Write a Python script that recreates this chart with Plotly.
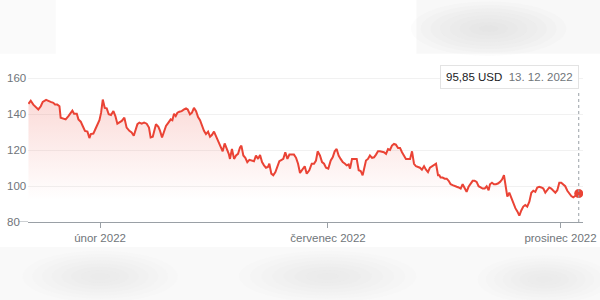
import pandas as pd
import plotly.graph_objects as go

# ---- data (day offsets counted from 13 Dec 2021, price in USD) ----
start_date = "2021-12-13"
day_offset = [
    2.9, 4.4, 6.1, 7.9, 9.4, 11.0, 12.3, 14.5, 16.0, 17.5,
    19.3, 20.4, 21.9, 23.3, 24.1, 25.9, 27.4, 29.2, 30.7, 31.8,
    32.9, 34.7, 35.8, 37.3, 38.6, 40.1, 41.7, 43.0, 43.9, 45.6,
    46.9, 48.3, 49.6, 50.7, 51.8, 53.1, 54.4, 55.7, 57.2, 58.8,
    60.1, 61.4, 62.7, 64.3, 66.0, 67.5, 69.3, 70.8, 72.2, 73.3,
    74.6, 75.9, 77.4, 79.0, 80.7, 82.2, 83.3, 84.7, 85.8, 86.8,
    88.4, 89.5, 90.8, 92.1, 93.4, 95.0, 96.5, 97.6, 98.7, 99.8,
    100.9, 102.2, 103.7, 105.3, 106.6, 107.7, 109.2, 110.5, 111.8, 113.2,
    114.5, 115.8, 117.1, 118.4, 119.7, 121.1, 122.4, 123.7, 125.0, 126.3,
    127.9, 129.4, 130.7, 132.0, 133.3, 134.7, 135.5, 136.8, 138.2, 139.5,
    140.8, 142.1, 143.0, 144.3, 145.6, 146.9, 148.3, 149.8, 151.3, 152.6,
    154.0, 155.3, 156.6, 157.9, 159.2, 160.5, 161.4, 162.7, 164.0, 165.4,
    166.7, 168.0, 169.5, 170.6, 171.9, 173.3, 174.6, 176.1, 177.6, 179.0,
    180.3, 181.6,
    183.3, 184.7, 186.0, 187.7, 189.3, 190.8, 192.1, 193.2, 194.7, 196.1,
    197.4, 198.7, 200.2, 201.8, 203.1, 204.4, 205.7, 207.0, 208.3, 209.7,
    211.2, 212.3, 213.6, 214.5, 215.8, 217.1, 218.9, 220.2, 221.5, 222.8,
    223.7, 225.0, 226.3, 227.6, 229.0, 230.3, 231.6, 232.9, 234.2, 235.5,
    236.8, 238.2, 239.5, 240.8, 242.1, 243.4, 244.7, 246.1, 247.4, 248.7,
    250.0, 251.3, 252.6, 254.0, 255.3, 256.6, 257.9, 259.2, 260.5, 261.8,
    263.2, 264.5, 265.8, 267.1, 268.4, 269.7, 271.1, 272.4, 273.3, 274.1,
    275.4, 276.8, 278.1, 279.4, 280.7, 282.0, 283.3, 284.7, 286.0, 287.3,
    288.6, 289.9, 291.2, 292.5, 293.9, 295.2, 296.5, 297.8, 299.1, 300.4,
    301.8, 303.1, 304.4, 305.7, 306.6, 307.9, 309.2, 310.5, 311.8, 313.2,
    314.5, 315.8, 317.1, 318.0, 319.3, 320.6, 321.9, 323.3, 324.6, 325.9,
    327.2, 328.5, 329.8, 331.1, 332.5, 333.8, 335.1, 336.4, 337.7, 339.0,
    340.4, 341.7, 343.0, 344.3, 345.6, 346.9, 348.3, 349.6, 350.9, 352.2,
    353.5, 354.8, 356.1, 357.5, 358.8, 360.1, 361.4, 362.7, 364.0, 365.0,
]
price = [
    145.7, 147.5, 145.3, 143.5, 142.6, 144.4, 146.8, 147.9, 147.2, 146.8,
    146.3, 145.3, 145.3, 144.4, 138.0, 137.7, 137.1, 138.9, 140.8, 142.0,
    140.2, 140.2, 137.1, 135.8, 133.4, 130.7, 130.3, 126.7, 128.9, 129.2,
    131.6, 134.4, 136.6, 140.8, 148.1, 143.5, 143.2, 139.9, 139.5, 141.7,
    138.9, 134.7, 135.3, 136.2, 138.0, 132.5, 130.7, 129.8, 128.0, 131.6,
    134.4, 135.3, 134.7, 135.3, 134.7, 132.5, 127.0, 127.4, 131.6, 134.4,
    132.9, 130.7, 127.0, 129.8, 133.4, 135.3, 137.1, 136.6, 140.2, 138.9,
    140.8, 141.3, 141.7, 142.6, 143.2, 142.6, 139.9, 140.8, 143.5, 141.7,
    138.4, 136.6, 133.4, 130.7, 128.9, 130.3, 127.4, 128.5, 130.3, 127.9,
    125.2, 122.5, 119.3, 123.7, 121.2, 117.9, 115.1, 120.6, 115.1, 117.0,
    117.9, 121.5, 122.5, 117.0, 115.7, 113.3, 114.6, 114.2, 113.8, 117.0,
    115.1, 117.3, 113.3, 111.5, 110.2, 110.6, 112.4, 106.9, 106.0, 107.8,
    111.5, 113.8, 114.6, 115.1, 118.8, 115.1, 117.5, 117.5, 117.5, 115.7,
    112.4, 107.3,
    109.7, 111.0, 106.9, 108.8, 112.4, 112.4, 114.2, 119.3, 117.0, 113.3,
    112.4, 110.2, 109.7, 114.2, 116.0, 119.3, 120.6, 117.0, 115.1, 113.3,
    112.4, 111.5, 112.0, 109.7, 115.1, 115.1, 115.1, 108.8, 108.4, 106.0,
    108.8, 114.2, 115.1, 117.0, 115.7, 116.0, 117.5, 119.3, 119.3, 118.9,
    118.8, 117.9, 120.6, 120.1, 122.5, 123.4, 123.0, 121.2, 121.2, 118.8,
    117.0, 115.1, 115.1, 115.1, 119.3, 112.4, 111.0, 110.6, 110.2, 109.1,
    111.0, 109.1, 107.8, 110.2, 111.0, 112.0, 112.4, 106.0, 106.0, 104.7,
    104.7, 104.1, 104.1, 102.9, 101.0, 100.5, 99.9, 99.6, 99.2, 98.6,
    101.0, 98.6, 96.8, 99.6, 101.4, 102.9, 102.9, 102.3, 99.9, 99.2,
    98.6, 98.6, 99.9, 97.7, 101.0, 101.8, 101.0, 101.0, 101.4, 102.3,
    103.6, 106.0, 97.7, 94.1, 96.3, 93.2, 90.4, 87.7, 85.9, 83.5,
    86.4, 88.6, 89.5, 88.6, 91.3, 96.3, 97.4, 96.8, 99.2, 99.6,
    99.2, 98.6, 96.3, 97.7, 99.2, 98.6, 97.4, 96.3, 97.7, 101.8,
    101.8, 101.0, 99.9, 97.4, 95.5, 94.4, 93.7, 94.4, 95.5, 95.85,
]
y_ticks = [80, 100, 120, 140, 160]
x_tick_dates = ["2022-02-01", "2022-07-01", "2022-12-01"]
x_tick_labels = ["únor 2022", "červenec 2022", "prosinec 2022"]
x_range_days = [2.6, 367.8]
y_range = [80, 164]
tooltip_price = "95,85 USD"
tooltip_date = "13. 12. 2022"

# ---- build ----
base = pd.Timestamp(start_date)
dates = [base + pd.to_timedelta(d, unit="D") for d in day_offset]
x_range = [base + pd.to_timedelta(d, unit="D") for d in x_range_days]

RED = "#ea4335"
GREY = "#70757a"
FONT = "Arial, Liberation Sans, sans-serif"

fig = go.Figure()
fig.add_trace(go.Scatter(
    x=dates, y=price, mode="lines",
    line=dict(color=RED, width=2),
    fill="tozeroy",
    fillgradient=dict(type="vertical", start=92, stop=150,
                      colorscale=[[0, "rgba(234,67,53,0)"], [1, "rgba(234,67,53,0.2)"]]),
    hoverinfo="skip", showlegend=False,
))
fig.add_trace(go.Scatter(
    x=[dates[-1]], y=[price[-1]], mode="markers",
    marker=dict(color=RED, size=9), hoverinfo="skip", showlegend=False,
))


def blob(cx, cy, rx, ry, color="#d8d8d8", steps=8, op=0.06):
    out = []
    for i in range(steps):
        f = 1 - i / steps
        out.append(dict(type="circle", xref="paper", yref="paper",
                        x0=cx - rx * f, x1=cx + rx * f, y0=cy - ry * f, y1=cy + ry * f,
                        fillcolor=color, opacity=op, line_width=0, layer="below"))
    return out


shapes = [
    # blurred background bands (top and bottom)
    dict(type="rect", xref="paper", yref="paper", x0=-0.06, x1=1.04, y0=-0.53, y1=-0.165,
         fillcolor="#f9f9f9", line_width=0, layer="below"),
    dict(type="rect", xref="paper", yref="paper", x0=0.70, x1=1.04, y0=1.115, y1=1.48,
         fillcolor="#f8f8f8", line_width=0, layer="below"),
    dict(type="rect", xref="paper", yref="paper", x0=-0.06, x1=0.05, y0=1.115, y1=1.48,
         fillcolor="#fafafa", line_width=0, layer="below"),
]
shapes += blob(0.13, -0.36, 0.14, 0.17)
shapes += blob(0.54, -0.36, 0.16, 0.17)
shapes += blob(0.93, -0.38, 0.12, 0.16)
shapes += blob(0.83, 1.28, 0.14, 0.18, op=0.065)
shapes += [
    # baseline extension to the left of the plot
    dict(type="line", xref="paper", yref="y", x0=-0.018, x1=0, y0=y_range[0], y1=y_range[0],
         line=dict(color="#9aa0a6", width=1)),
    # dotted hover line
    dict(type="line", xref="x", yref="y", x0=dates[-1], x1=dates[-1], y0=y_range[0], y1=153.3,
         line=dict(color="#9aa0a6", width=1, dash="dot")),
]

annotations = [
    dict(x=-0.0415, xref="paper", y=v, yref="y", text=str(v), showarrow=False,
         xanchor="left", yanchor="middle", font=dict(family=FONT, size=11.5, color=GREY))
    for v in y_ticks
]
annotations.append(dict(
    x=dates[-1], xref="x", y=160.6, yref="y", xanchor="right", yanchor="middle",
    showarrow=False,
    text=f"<span style='color:#202124'>{tooltip_price}</span>&nbsp;&nbsp;"
         f"<span style='color:{GREY}'>{tooltip_date}</span>",
    font=dict(family=FONT, size=11.5, color="#202124"),
    bgcolor="white", bordercolor="#e3e3e3", borderwidth=1, borderpad=5,
))

fig.update_layout(
    width=600, height=300, autosize=False,
    margin=dict(l=28, r=17, t=71, b=78),
    paper_bgcolor="white", plot_bgcolor="white",
    font=dict(family=FONT, size=11.5, color=GREY),
    shapes=shapes, annotations=annotations,
    xaxis=dict(type="date", range=x_range, tickvals=x_tick_dates, ticktext=x_tick_labels,
               ticks="outside", ticklen=5, tickcolor="#9aa0a6", showline=True,
               linecolor="#9aa0a6", linewidth=1, showgrid=False, zeroline=False,
               automargin=False,
               tickfont=dict(family=FONT, size=11.5, color=GREY), fixedrange=True),
    yaxis=dict(range=y_range, tickvals=y_ticks, showticklabels=False, showgrid=True,
               gridcolor="#f1f1f1", gridwidth=1, zeroline=False, showline=False,
               automargin=False, fixedrange=True),
)

fig.write_html("out.html")
